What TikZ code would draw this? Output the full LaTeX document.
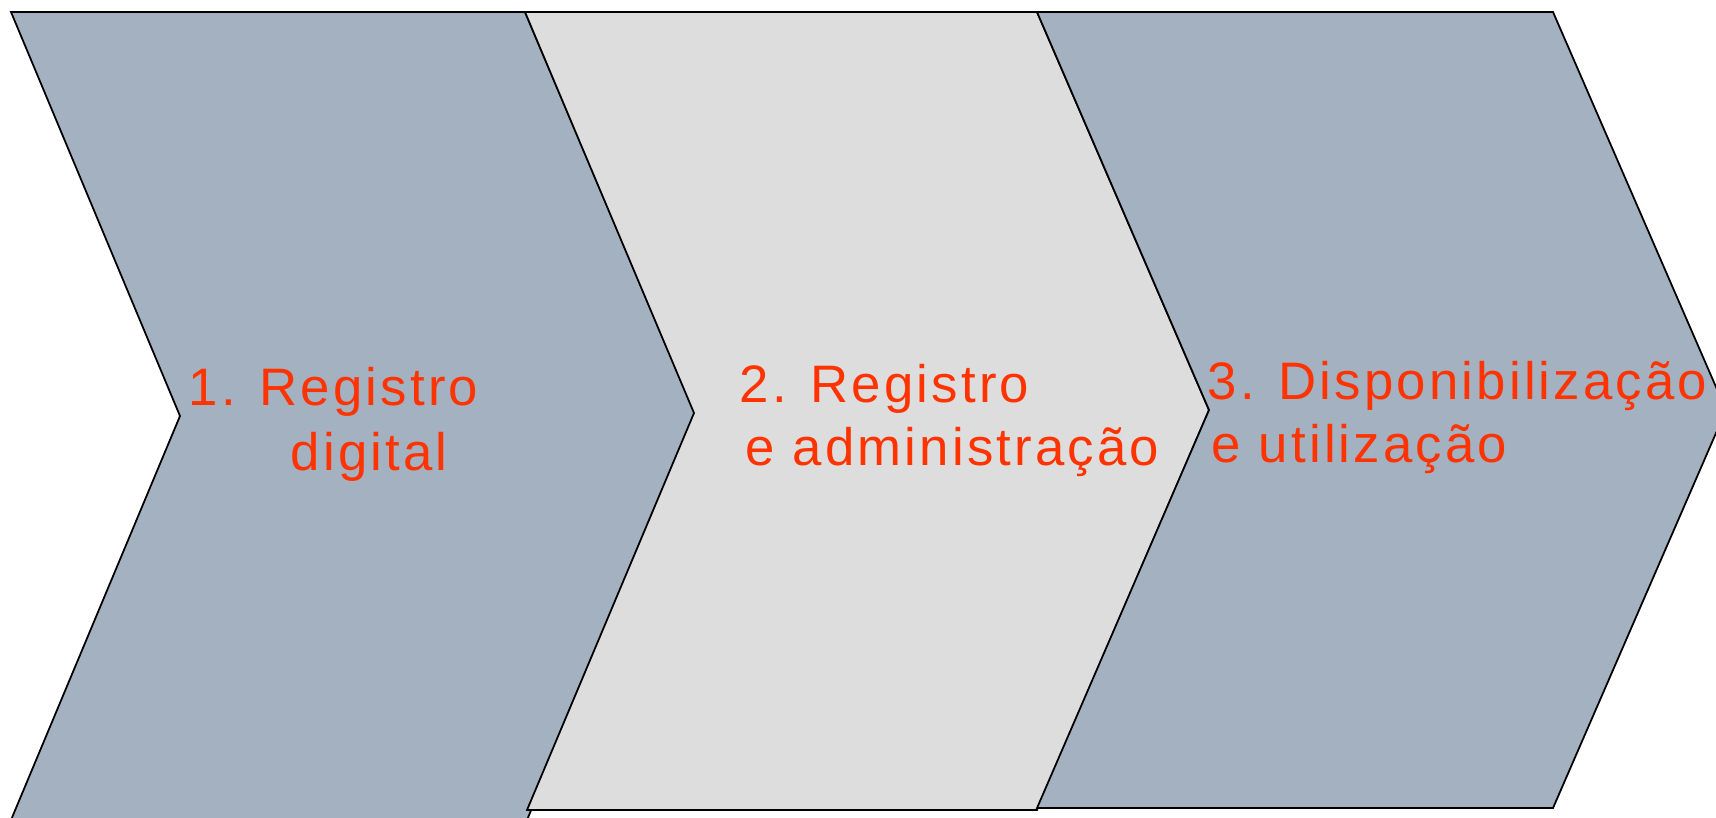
\documentclass[tikz,border=0pt]{standalone}
\usepackage{fontspec}
\newfontfamily\chevfont{Liberation Sans}[LetterSpace=6]
\definecolor{chevblue}{HTML}{A3B1C1}
\definecolor{chevgray}{HTML}{DDDDDD}
\definecolor{chevred}{HTML}{FF3300}
\tikzset{
  chevron/.style={draw=black, line width=0.5pt, line join=miter},
  chevtext/.style={text=chevred, anchor=base west, inner sep=0pt,
    font=\chevfont\fontsize{15}{18}\selectfont}
}

\begin{document}
\begin{tikzpicture}[x=0.01cm, y=-0.01cm]
    % Fix the size of the picture
    \path[use as bounding box, clip] (0,0) rectangle (1716,817);

    % Draw the three chevrons
    \draw[chevron, fill=chevblue] (11,12) -- (525,12) -- (696,416) -- (527,820) -- (11,820) -- (180,416) -- cycle;
    \draw[chevron, fill=chevgray] (525,12) -- (1037,12) -- (1209,410) -- (1037,810) -- (527,810) -- (694,413) -- cycle;
    \draw[chevron, fill=chevblue] (1037,12) -- (1553,12) -- (1726,410) -- (1553,808) -- (1037,808) -- (1209,410) -- cycle;

    % Write the names of the steps
    \node[chevtext] (step1a) at (188,405) {1. Registro};
    \node[chevtext] (step1b) at (290,470) {digital};
    \node[chevtext] (step2a) at (739,402) {2. Registro};
    \node[chevtext] (step2b) at (745,465) {e administração};
    \node[chevtext] (step3a) at (1207,399) {3. Disponibilização};
    \node[chevtext] (step3b) at (1211,462) {e utilização};
\end{tikzpicture}
\end{document}
